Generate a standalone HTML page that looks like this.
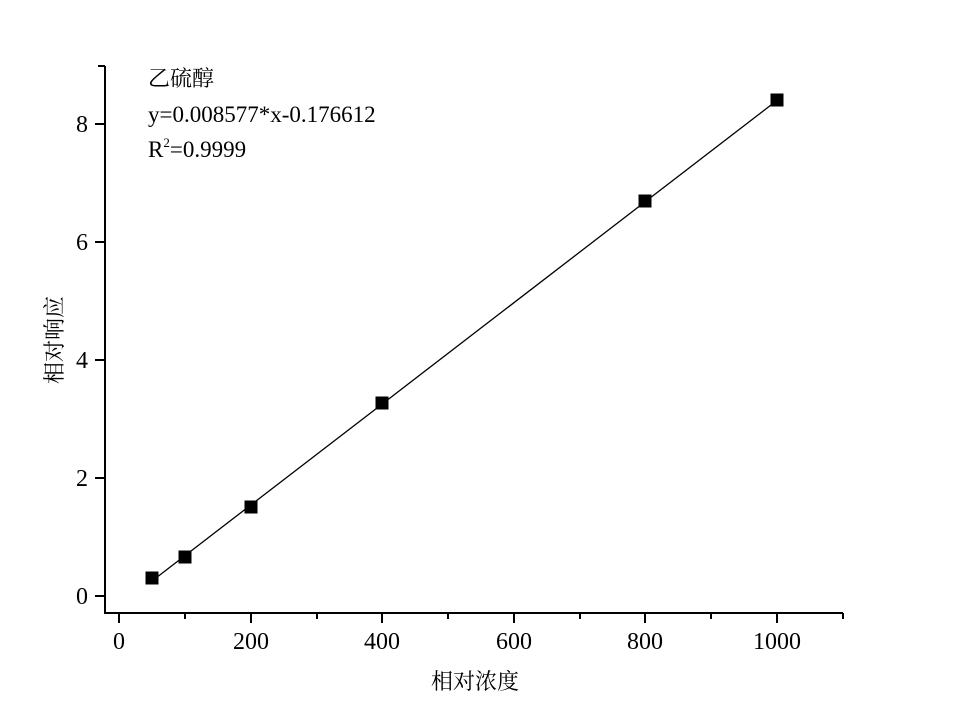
<!DOCTYPE html>
<html><head><meta charset="utf-8"><style>
body{margin:0;background:#fff;}
svg text{font-family:"Liberation Serif","Noto Serif CJK SC",serif;fill:#000;}
</style></head><body>
<svg width="956" height="716" xmlns="http://www.w3.org/2000/svg">
<g stroke="#000" stroke-width="2" fill="none">
<path d="M105 66 V613 H843"/>
<path d="M98 66 H105"/>
<path d="M95 596 H105 M95 478 H105 M95 360 H105 M95 242 H105 M95 124 H105"/>
<path d="M119 613 V623 M251 613 V623 M382 613 V623 M514 613 V623 M645 613 V623 M777 613 V623"/>
<path d="M185 613 V619 M317 613 V619 M448 613 V619 M580 613 V619 M711 613 V619 M843 613 V619"/>
</g>
<line x1="152" y1="581" x2="777" y2="100.4" stroke="#000" stroke-width="1.3"/>
<g fill="#000">
<rect x="145.5" y="571.5" width="13" height="13"/>
<rect x="178.5" y="550.5" width="13" height="13"/>
<rect x="244.5" y="500.5" width="13" height="13"/>
<rect x="375.5" y="396.5" width="13" height="13"/>
<rect x="638.5" y="194.5" width="13" height="13"/>
<rect x="770.5" y="93.5" width="13" height="13"/>
</g>
<g font-size="24" text-anchor="middle">
<text x="119" y="649">0</text><text x="251" y="649">200</text><text x="382" y="649">400</text>
<text x="514" y="649">600</text><text x="645" y="649">800</text><text x="777" y="649">1000</text>
</g>
<g font-size="24" text-anchor="end">
<text x="88" y="604">0</text><text x="88" y="486">2</text><text x="88" y="368">4</text>
<text x="88" y="250">6</text><text x="88" y="132">8</text>
</g>
<text x="475" y="689" font-size="22" text-anchor="middle">相对浓度</text>
<text transform="translate(62,340) rotate(-90)" font-size="22" text-anchor="middle">相对响应</text>
<text x="148" y="86" font-size="22">乙硫醇</text>
<text x="148" y="122" font-size="23">y=0.008577*x-0.176612</text>
<text x="148" y="157" font-size="23">R<tspan font-size="13" dy="-10">2</tspan><tspan dy="10">=0.9999</tspan></text>
</svg>
</body></html>
